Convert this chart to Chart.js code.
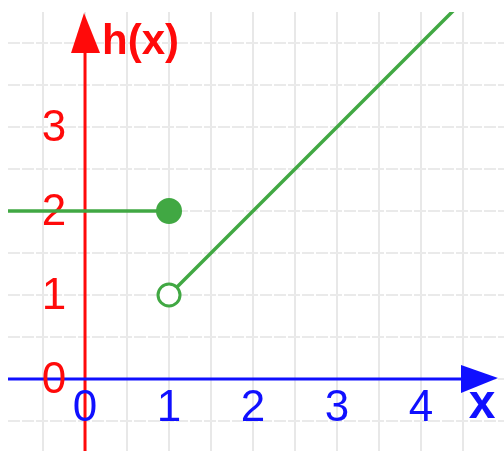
<!DOCTYPE html>
<html>
<head>
<meta charset="utf-8">
<script src="https://cdn.jsdelivr.net/npm/chart.js@4"></script>
<style>
html,body{margin:0;padding:0;background:#fff;}
#wrap{width:504px;height:451px;position:relative;}
</style>
</head>
<body>
<div id="wrap"><canvas id="c"></canvas></div>
<script>
// Data
const leftPiece = [{x:-0.95, y:2}, {x:1, y:2}];
const rightPiece = [{x:1, y:1}, {x:4.6, y:4.6}];
const closedPoints = [{x:1, y:2}];
const openPoints = [{x:1, y:1}];
const xTickLabels = ['0','1','2','3','4'];
const xTickValues = [0,1,2,3,4];
const yTickLabels = ['0','1','2','3'];
const yTickValues = [0,1,2,3];
const xGrid = [-0.5,0,0.5,1,1.5,2,2.5,3,3.5,4,4.5];
const yGrid = [-0.5,0,0.5,1,1.5,2,2.5,3,3.5,4];

const GREEN = '#41a843';
const RED = '#ff0a0a';
const BLUE = '#1010ff';

const axesPlugin = {
  id: 'axesPlugin',
  beforeDatasetsDraw(chart) {
    const ctx = chart.ctx;
    const xs = chart.scales.x, ys = chart.scales.y;
    const ca = chart.chartArea;
    const x0 = xs.getPixelForValue(0), y0 = ys.getPixelForValue(0);
    ctx.save();
    // y axis (red)
    ctx.strokeStyle = RED; ctx.lineWidth = 3;
    ctx.beginPath(); ctx.moveTo(x0, ca.bottom); ctx.lineTo(x0, 45); ctx.stroke();
    ctx.fillStyle = RED;
    ctx.beginPath(); ctx.moveTo(x0 - 1, 13); ctx.lineTo(x0 + 15, 53); ctx.lineTo(x0 - 14, 53); ctx.closePath(); ctx.fill();
    // x axis (blue)
    ctx.strokeStyle = BLUE; ctx.lineWidth = 3;
    ctx.beginPath(); ctx.moveTo(ca.left, y0); ctx.lineTo(470, y0); ctx.stroke();
    ctx.fillStyle = BLUE;
    ctx.beginPath(); ctx.moveTo(498, y0 - 1); ctx.lineTo(461, y0 - 14); ctx.lineTo(461, y0 + 14); ctx.closePath(); ctx.fill();
    // labels
    ctx.textAlign = 'center'; ctx.textBaseline = 'middle';
    ctx.font = '44px "Liberation Sans", sans-serif';
    ctx.fillStyle = RED;
    yTickLabels.forEach((t, i) => {
      ctx.fillText(t, 54, ys.getPixelForValue(yTickValues[i]) + 2);
    });
    ctx.fillStyle = BLUE;
    xTickLabels.forEach((t, i) => {
      ctx.fillText(t, xs.getPixelForValue(xTickValues[i]), 409);
    });
    ctx.font = 'bold 48px "Liberation Sans", sans-serif';
    ctx.fillText('x', 482, 405);
    ctx.fillStyle = RED;
    ctx.textAlign = 'left';
    ctx.font = 'bold 42px "Liberation Sans", sans-serif';
    ctx.fillText('h(x)', 102, 42);
    ctx.restore();
  }
};

new Chart(document.getElementById('c'), {
  type: 'scatter',
  data: {
    datasets: [
      { data: closedPoints, showLine: false, pointRadius: 12, pointBackgroundColor: GREEN, pointBorderColor: GREEN, pointBorderWidth: 2, order: 0 },
      { data: openPoints, showLine: false, pointRadius: 11, pointBackgroundColor: '#ffffff', pointBorderColor: GREEN, pointBorderWidth: 3, order: 1 },
      { data: leftPiece, showLine: true, borderColor: GREEN, borderWidth: 3.5, pointRadius: 0, order: 2 },
      { data: rightPiece, showLine: true, borderColor: GREEN, borderWidth: 3.5, pointRadius: 0, order: 3 }
    ]
  },
  options: {
    responsive: true,
    maintainAspectRatio: false,
    animation: false,
    layout: { autoPadding: false, padding: { left: 8, top: 12, right: 0, bottom: 0 } },
    plugins: { legend: { display: false }, tooltip: { enabled: false } },
    scales: {
      x: {
        type: 'linear', min: -0.917, max: 4.988,
        afterBuildTicks: (s) => { s.ticks = xGrid.map(v => ({ value: v })); },
        ticks: { display: false },
        grid: { color: '#e8e8e8', lineWidth: 2, drawTicks: false },
        border: { display: false }
      },
      y: {
        type: 'linear', min: -0.857, max: 4.369,
        afterBuildTicks: (s) => { s.ticks = yGrid.map(v => ({ value: v })); },
        ticks: { display: false },
        grid: { color: '#eaeaea', lineWidth: 2, drawTicks: false },
        border: { display: false, dash: [12, 2] }
      }
    }
  },
  plugins: [axesPlugin]
});
</script>
</body>
</html>
